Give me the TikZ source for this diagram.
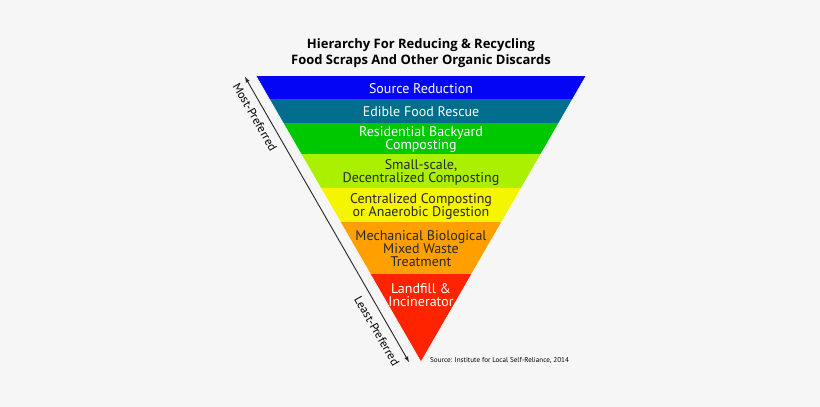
\documentclass[tikz,border=0pt]{standalone}
\usepackage{fontspec}
\setmainfont{PT Sans}
\newfontfamily\headFont{Open Sans}
\usepackage{tikz}
\usetikzlibrary{positioning}
\tikzstyle{pixels} = [x = 1pt, y = -1pt, every node/.style={transform shape}]
\definecolor{backColor}{RGB}{246,246,246}
\definecolor{sourceColor}{RGB}{5,5,245}
\definecolor{rescueColor}{RGB}{0,110,140}
\definecolor{backyardColor}{RGB}{0,200,0}
\definecolor{smallColor}{RGB}{170,240,0}
\definecolor{centralColor}{RGB}{245,245,0}
\definecolor{mechanicalColor}{RGB}{255,160,0}
\definecolor{landfillColor}{RGB}{255,35,0}
\definecolor{darkText}{RGB}{40,40,40}
\tikzstyle{bandText} = [font=\fontsize{14}{13}\selectfont, align=center, inner sep=0pt]
\tikzstyle{titleText} = [font=\headFont\bfseries\fontsize{13}{15.5}\selectfont, align=center, inner sep=0pt]
\tikzstyle{sideText} = [font=\fontsize{12}{12}\selectfont, rotate=-60, inner sep=0pt]
\tikzstyle{prefArrow} = [color=black!85, line width=.9pt, <->, >=latex]
\newcommand{\topY}{76}
\newcommand{\apexY}{362}
% band: name, top, bottom, fill, text colour, label
\newcommand{\wasteBand}[6]{
  \fill [#4] (200, #2) rectangle (640, #3);
  \node [bandText, text=#5] (#1) at (421, {(#2 + #3) / 2 + 1}) {#6};
}

\begin{document}
\begin{tikzpicture}[pixels]
  \useasboundingbox [fill=backColor] (0,0) rectangle (820,407);

  \node [titleText] (title) at (421, 53) {Hierarchy For Reducing \& Recycling\\Food Scraps And Other Organic Discards};

  \coordinate (leftTop) at (256, \topY);
  \coordinate (rightTop) at (586, \topY);
  \coordinate (apex) at (421, \apexY);

  \begin{scope}
    \clip (leftTop) -- (rightTop) -- (apex) -- cycle;
    \wasteBand{source}{76}{99}{sourceColor}{white}{Source Reduction}
    \wasteBand{rescue}{99}{123}{rescueColor}{white}{Edible Food Rescue}
    \wasteBand{backyard}{123}{154}{backyardColor}{white}{Residential Backyard\\Composting}
    \wasteBand{small}{154}{188}{smallColor}{darkText}{Small-scale,\\Decentralized Composting}
    \wasteBand{central}{188}{222}{centralColor}{darkText}{Centralized Composting\\or Anaerobic Digestion}
    \wasteBand{mechanical}{222}{274}{mechanicalColor}{darkText}{Mechanical Biological\\Mixed Waste\\Treatment}
    \fill [landfillColor] (200, 274) rectangle (640, 370);
  \end{scope}
  \draw [white, line width=.6pt] (leftTop) -- (apex) -- (rightTop);
  \node [bandText, text=white] (landfill) at (421, 295) {Landfill \&\\Incinerator};

  % preference arrow
  \coordinate (mostEnd) at (245, 77);
  \coordinate (leastEnd) at (409, 362);
  \draw [prefArrow] (mostEnd) -- (leastEnd);
  \node [sideText] (most) at (255, 117) {Most-Preferred};
  \node [sideText] (least) at (377, 331) {Least-Preferred};

  \node [font=\fontsize{7.1}{9}\selectfont, anchor=west, inner sep=0pt] (source note) at (430, 360) {Source: Institute for Local Self-Reliance, 2014};
\end{tikzpicture}
\end{document}
